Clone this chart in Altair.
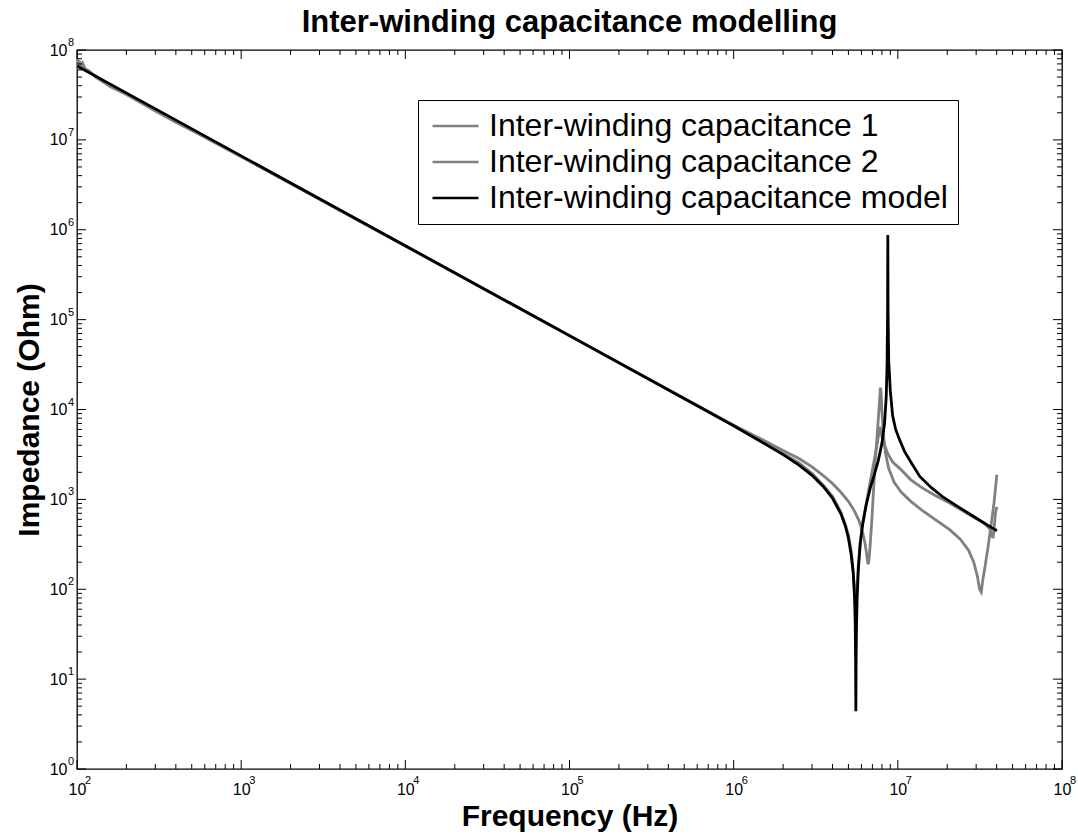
import altair as alt
import pandas as pd

# ---- data (frequency in Hz, impedance in Ohm) ----
FREQ_C1 = [100, 101.5, 103, 105, 108, 112, 118, 130, 160, 200, 300, 400, 600, 1000, 1e4, 1e5,
           1e6, 1.5e6, 2e6, 2.5e6, 3e6, 3.5e6, 4e6, 4.5e6, 5e6, 5.4e6, 5.8e6, 6.1e6, 6.3e6,
           6.45e6, 6.55e6, 6.62e6, 6.7e6, 6.8e6, 6.95e6, 7.1e6, 7.3e6, 7.5e6, 7.7e6, 7.83e6,
           7.9e6, 8.0e6, 8.15e6, 8.4e6, 8.8e6, 9.5e6, 1.05e7, 1.2e7, 1.4e7, 1.7e7, 2.07e7,
           2.4e7, 2.7e7, 2.9e7, 3.05e7, 3.15e7, 3.22e7, 3.3e7, 3.4e7, 3.55e7, 3.7e7, 3.85e7,
           4.01e7]
Z_C1 = [8.0e7, 6.8e7, 7.6e7, 6.6e7, 7.2e7, 6.2e7, 5.9e7, 5.0e7, 3.9e7, 3.2e7, 2.1e7, 1.57e7,
        1.08e7, 6.5e6, 6.6e5, 6.6e4,
        6.7e3, 4.6e3, 3.5e3, 2.85e3, 2.3e3, 1.85e3, 1.5e3, 1.2e3, 950, 760, 580, 430, 330,
        250, 200, 190, 230, 330, 600, 1.2e3, 2.8e3, 5.5e3, 1.1e4, 1.75e4,
        1.6e4, 9.5e3, 5.5e3, 3.3e3, 2.2e3, 1.55e3, 1.2e3, 950, 760, 590, 460,
        360, 270, 200, 140, 100, 93, 130, 180, 300, 520, 900,
        1.88e3]

FREQ_C2 = [100, 101, 102.5, 104, 107, 112, 130, 160, 200, 300, 400, 600, 1000, 1e4, 1e5,
           1e6, 1.5e6, 2e6, 2.5e6, 3e6, 3.5e6, 4e6, 4.5e6, 4.8e6, 5.0e6, 5.2e6, 5.35e6,
           5.45e6, 5.52e6, 5.58e6, 5.65e6, 5.75e6, 5.9e6, 6.1e6, 6.4e6, 6.8e6, 7.2e6, 7.5e6,
           7.7e6, 7.77e6, 7.85e6, 8.0e6, 8.3e6, 8.7e6, 9.3e6, 1.03e7, 1.2e7, 1.4e7, 1.7e7,
           2.07e7, 2.5e7, 3.0e7, 3.4e7, 3.63e7, 3.75e7, 3.8e7, 3.87e7, 3.93e7, 4.01e7]
Z_C2 = [6.0e7, 7.5e7, 6.3e7, 7.0e7, 6.2e7, 6.0e7, 5.1e7, 4.0e7, 3.25e7, 2.15e7, 1.6e7, 1.07e7,
        6.55e6, 6.6e5, 6.6e4,
        6.6e3, 4.35e3, 3.25e3, 2.55e3, 1.95e3, 1.45e3, 1.08e3, 720, 520, 400, 270, 160,
        95, 62, 70, 110, 190, 330, 540, 870, 1.6e3, 2.8e3, 4.2e3,
        5.8e3, 6.4e3, 6.0e3, 5.0e3, 4.0e3, 3.2e3, 2.6e3, 2.2e3, 1.65e3, 1.35e3, 1.1e3,
        910, 740, 610, 530, 470, 400, 370, 500, 700, 826]

FREQ_MODEL = [1e2, 1e3, 1e4, 1e5, 1e6, 1.5e6, 2e6, 2.5e6, 3e6, 3.5e6, 4e6, 4.5e6, 4.8e6, 5.0e6,
              5.2e6, 5.35e6, 5.45e6, 5.5e6, 5.53e6, 5.55e6, 5.57e6, 5.6e6, 5.65e6, 5.75e6,
              5.9e6, 6.1e6, 6.4e6, 6.8e6, 7.2e6, 7.6e6, 8.0e6, 8.3e6, 8.5e6, 8.6e6, 8.66e6,
              8.69e6, 8.72e6, 8.8e6, 9.0e6, 9.3e6, 9.7e6, 1.03e7, 1.1e7, 1.2e7, 1.36e7, 1.6e7,
              1.9e7, 2.4e7, 3.0e7, 3.5e7, 4.01e7]
Z_MODEL = [6.64e7, 6.64e6, 6.64e5, 6.64e4, 6.6e3, 4.3e3, 3.15e3, 2.4e3, 1.85e3, 1.4e3, 1.03e3,
           690, 500, 370, 240, 150, 80, 42, 16, 4.4, 16, 38, 80, 170,
           320, 520, 850, 1.35e3, 1.9e3, 2.7e3, 4.2e3, 7.0e3, 1.4e4, 3.2e4, 1.2e5,
           8.75e5, 1.2e5, 3.5e4, 1.6e4, 8.5e3, 6.0e3, 4.5e3, 3.4e3, 2.6e3, 1.8e3, 1.35e3,
           1.05e3, 800, 620, 520, 447]

SERIES = ["Inter-winding capacitance 1", "Inter-winding capacitance 2",
          "Inter-winding capacitance model"]
COLORS = ["#808080", "#808080", "#000000"]

DECADES_X = [1e2, 1e3, 1e4, 1e5, 1e6, 1e7, 1e8]
EXP_X = ["2", "3", "4", "5", "6", "7", "8"]
DECADES_Y = [1e0, 1e1, 1e2, 1e3, 1e4, 1e5, 1e6, 1e7, 1e8]
EXP_Y = ["0", "1", "2", "3", "4", "5", "6", "7", "8"]
MINOR_MULT = [2, 3, 4, 5, 6, 7, 8, 9]
MINOR_X = [m * d for d in DECADES_X[:-1] for m in MINOR_MULT]
MINOR_Y = [m * d for d in DECADES_Y[:-1] for m in MINOR_MULT]


def frame(name, f, z):
    return pd.DataFrame({"f": f, "z": z, "series": name, "i": list(range(len(f)))})


gray_df = pd.concat([frame(SERIES[0], FREQ_C1, Z_C1), frame(SERIES[1], FREQ_C2, Z_C2)])
model_df = frame(SERIES[2], FREQ_MODEL, Z_MODEL)

W, H = 985, 719
FONT = "Liberation Sans"

XS = alt.Scale(type="log", domain=[1e2, 1e8], nice=False)
YS = alt.Scale(type="log", domain=[1e0, 1e8], nice=False)
XAX = alt.Axis(values=DECADES_X, labelExpr="'10'", ticks=False, domain=False, grid=False,
               title="Frequency (Hz)", labelPadding=12, titlePadding=4,
               labelFlush=False, labelFontSize=16)
YAX = alt.Axis(values=DECADES_Y, labelExpr="'10'", ticks=False, domain=False, grid=False,
               title="Impedance (Ohm)", labelPadding=10, titlePadding=5, labelFlush=False,
               labelFontSize=16)

color = alt.Color(
    "series:N",
    scale=alt.Scale(domain=SERIES, range=COLORS),
    legend=alt.Legend(
        orient="none", legendX=341, legendY=50, title=None,
        symbolType="M-1,0H3", symbolSize=529, symbolStrokeWidth=2.6,
        labelFont=FONT, labelFontSize=32, labelColor="black", labelOffset=29,
        labelLimit=900, rowPadding=4, padding=10,
        strokeColor="black", fillColor="white",
    ),
)

gray = alt.Chart(gray_df).mark_line(strokeWidth=2.8, clip=True).encode(
    x=alt.X("f:Q", scale=XS, axis=XAX),
    y=alt.Y("z:Q", scale=YS, axis=YAX),
    color=color,
    detail="series:N",
    order="i:Q",
)
model = alt.Chart(model_df).mark_line(strokeWidth=2.8, clip=True).encode(
    x=alt.X("f:Q", scale=XS, axis=XAX),
    y=alt.Y("z:Q", scale=YS, axis=YAX),
    color=color,
    order="i:Q",
)


def xticks(vals, length):
    d = pd.DataFrame({"f": vals})
    bottom = alt.Chart(d).mark_rule(color="black", strokeWidth=1).encode(
        x=alt.X("f:Q", scale=XS, axis=XAX), y=alt.value(H), y2=alt.value(H - length))
    top = alt.Chart(d).mark_rule(color="black", strokeWidth=1).encode(
        x=alt.X("f:Q", scale=XS, axis=XAX), y=alt.value(0), y2=alt.value(length))
    return [bottom, top]


def yticks(vals, length):
    d = pd.DataFrame({"z": vals})
    left = alt.Chart(d).mark_rule(color="black", strokeWidth=1).encode(
        y=alt.Y("z:Q", scale=YS, axis=YAX), x=alt.value(0), x2=alt.value(length))
    right = alt.Chart(d).mark_rule(color="black", strokeWidth=1).encode(
        y=alt.Y("z:Q", scale=YS, axis=YAX), x=alt.value(W), x2=alt.value(W - length))
    return [left, right]


tick_layers = xticks(DECADES_X, 9) + xticks(MINOR_X, 5) + yticks(DECADES_Y, 9) + yticks(MINOR_Y, 5)

# exponents of the "10^n" tick labels
exp_x = alt.Chart(pd.DataFrame({"f": DECADES_X, "e": EXP_X})).mark_text(
    align="left", baseline="top", fontSize=11, font=FONT, color="black", dx=8
).encode(x=alt.X("f:Q", scale=XS, axis=XAX), y=alt.value(H + 6), text="e:N")
exp_y = alt.Chart(pd.DataFrame({"z": DECADES_Y, "e": EXP_Y})).mark_text(
    align="left", baseline="middle", fontSize=11, font=FONT, color="black", dy=-7
).encode(y=alt.Y("z:Q", scale=YS, axis=YAX), x=alt.value(-9), text="e:N")

chart = alt.layer(gray, model, *tick_layers, exp_x, exp_y).properties(
    width=W, height=H,
    title=alt.TitleParams("Inter-winding capacitance modelling", dy=5),
    autosize=alt.AutoSizeParams(type="none"),
    padding={"left": 77, "top": 50, "right": 16, "bottom": 67},
).configure_view(
    stroke="black", strokeWidth=1.3,
).configure_title(
    font=FONT, fontSize=31, fontWeight="bold", anchor="middle", offset=3, color="black",
).configure_axis(
    labelFont=FONT, labelColor="black",
    titleFont=FONT, titleFontSize=30, titleFontWeight="bold", titleColor="black",
)

chart.save("out.html", embed_options={"renderer": "svg", "actions": False})
